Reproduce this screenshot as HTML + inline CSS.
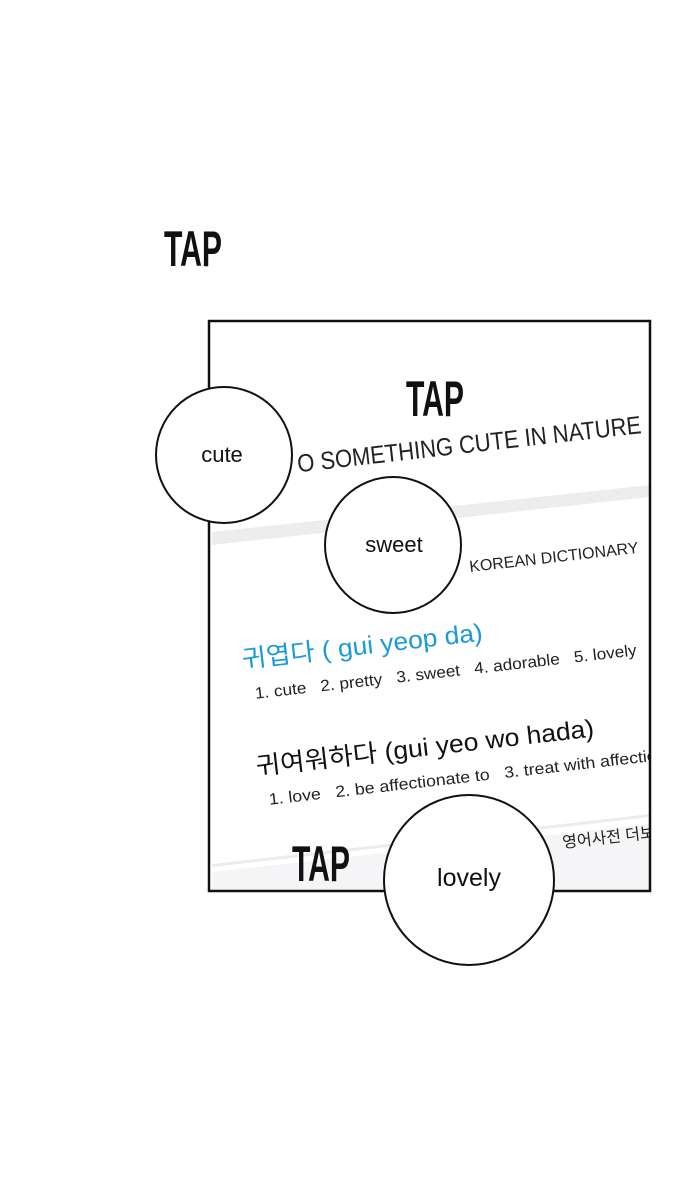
<!DOCTYPE html>
<html><head><meta charset="utf-8"><style>
html,body{margin:0;padding:0;background:#fff;width:700px;height:1197px;overflow:hidden}
svg{display:block}
text{font-family:"Liberation Sans","Noto Sans CJK KR",sans-serif;white-space:pre}
.tap{font-family:"Liberation Sans Narrow","Liberation Sans",sans-serif;font-weight:bold;font-size:50px;fill:#111}
</style></head><body>
<svg width="700" height="1197" viewBox="0 0 700 1197">
<rect width="700" height="1197" fill="#fff"/>
<text class="tap" x="164" y="266" textLength="58" lengthAdjust="spacingAndGlyphs">TAP</text>
<g>
<rect x="209" y="321" width="441" height="570" fill="#fff"/>
<clipPath id="c"><rect x="210" y="322" width="439" height="568"/></clipPath>
<g clip-path="url(#c)">
<polygon points="212,532 650,485 650,497 212,545" fill="#ededee"/>
<polygon points="212,872 650,824 650,891 212,891" fill="#f5f5f7"/>
<polygon points="212,864 650,814 650,817 212,867" fill="#ececee"/>
<g transform="rotate(-6.5 300 470)">
<text x="298" y="472" font-size="25" fill="#222" textLength="346" lengthAdjust="spacingAndGlyphs">O SOMETHING CUTE IN NATURE</text>
</g>
<g transform="rotate(-6.5 470 572)">
<text x="470" y="572" font-size="16" fill="#222" textLength="170" lengthAdjust="spacingAndGlyphs">KOREAN DICTIONARY</text>
</g>
<g transform="rotate(-6.5 243 668)">
<text x="243" y="668" font-size="25" fill="#1a9ad6" textLength="242" lengthAdjust="spacingAndGlyphs">귀엽다 ( gui yeop da)</text>
<text x="252" y="700" font-size="16" fill="#222" textLength="384" lengthAdjust="spacingAndGlyphs" xml:space="preserve">1. cute   2. pretty   3. sweet   4. adorable   5. lovely</text>
</g>
<g transform="rotate(-6.5 257 775)">
<text x="257" y="775" font-size="25" fill="#111" textLength="340" lengthAdjust="spacingAndGlyphs">귀여워하다 (gui yeo wo hada)</text>
<text x="266" y="806" font-size="16" fill="#222" textLength="400" lengthAdjust="spacingAndGlyphs" xml:space="preserve">1. love   2. be affectionate to   3. treat with affection</text>
</g>
<g transform="rotate(-6.5 563 848)">
<text x="563" y="848" font-size="16" fill="#222">영어사전 더보기</text>
</g>
</g>
<rect x="209" y="321" width="441" height="570" fill="none" stroke="#111" stroke-width="2.5"/>
</g>
<text class="tap" x="406" y="416" textLength="58" lengthAdjust="spacingAndGlyphs">TAP</text>
<text class="tap" x="292" y="881" textLength="58" lengthAdjust="spacingAndGlyphs">TAP</text>
<circle cx="224" cy="455" r="68" fill="#fff" stroke="#111" stroke-width="2"/>
<text x="222" y="462" font-size="22" text-anchor="middle" fill="#111">cute</text>
<circle cx="393" cy="545" r="68" fill="#fff" stroke="#111" stroke-width="2"/>
<text x="394" y="552" font-size="22" text-anchor="middle" fill="#111">sweet</text>
<circle cx="469" cy="880" r="85" fill="#fff" stroke="#111" stroke-width="2"/>
<text x="469" y="886" font-size="25" text-anchor="middle" fill="#111">lovely</text>
</svg>
</body></html>
